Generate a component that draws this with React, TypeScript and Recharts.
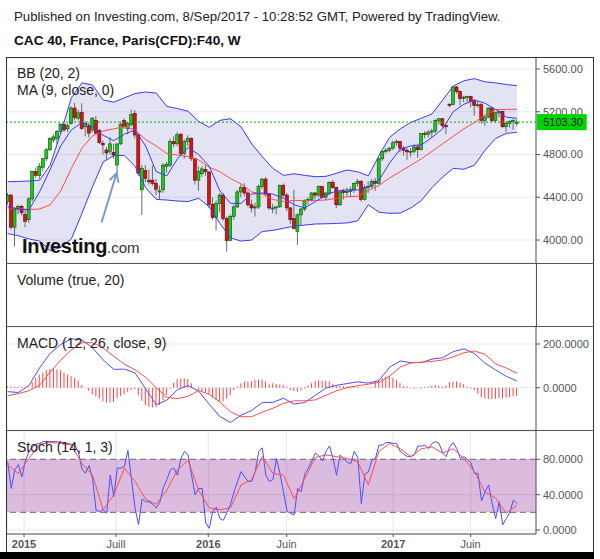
import React from 'react';
import {
  ComposedChart, Line, Bar, Area, XAxis, YAxis, CartesianGrid, ReferenceLine, ReferenceArea,
} from 'recharts';

const FONT = 'Arial, "Liberation Sans", Helvetica, sans-serif';

// ---------- x axis (weekly bars, index 0 = first week shown) ----------
const xTickPos = [4.61, 30.62, 56.72, 78.88, 109.0, 130.9];
const xTickLabels = ['2015', 'Juill', '2016', 'Juin', '2017', 'Juin'];
const xTickBold = [true, false, true, false, true, false];
const X_DOMAIN: [number, number] = [-0.2, 149.4];

// ---------- weekly candles ----------
const opens = [4360,4420,4120,4290,4315,4240,4190,4385,4640,4605,4680,4760,4845,4935,4950,5015,5080,5040,5090,5235,5140,5195,5060,5065,5030,5120,5025,4905,4842,4830,4820,4702,4900,5120,5040,5080,5185,4983,4470,4650,4560,4560,4530,4450,4470,4690,4700,4920,4900,4990,4810,4920,4950,4760,4560,4620,4660,4637,4333,4210,4340,4420,4200,3995,4220,4310,4450,4490,4440,4330,4300,4310,4500,4570,4430,4300,4300,4310,4510,4420,4300,4200,4080,4235,4290,4370,4380,4440,4420,4500,4400,4440,4540,4490,4330,4455,4445,4455,4470,4530,4550,4380,4490,4500,4550,4530,4760,4830,4840,4860,4910,4920,4860,4840,4825,4830,4870,4845,4995,4990,5010,5020,5120,5135,5070,5270,5267,5432,5390,5324,5337,5343,5300,5260,5266,5120,5150,5235,5117,5190,5203,5060,5090,5110,5090];
const highs = [4440,4430,4310,4330,4330,4280,4400,4650,4680,4720,4770,4860,4960,4990,5030,5090,5095,5090,5250,5285,5220,5280,5110,5100,5150,5160,5040,4930,4870,4960,4900,4910,5110,5140,5100,5220,5215,4990,4700,4700,4660,4700,4570,4510,4720,4730,4950,4970,5010,5000,4940,4980,4960,4770,4690,4690,4700,4640,4400,4370,4440,4440,4220,4240,4330,4470,4520,4530,4460,4380,4350,4520,4580,4590,4440,4340,4320,4520,4530,4440,4310,4470,4250,4300,4380,4400,4450,4450,4510,4510,4450,4550,4560,4500,4460,4480,4490,4500,4540,4570,4560,4520,4550,4570,4580,4770,4840,4860,4870,4930,4940,4930,4880,4860,4860,4900,4900,5000,5020,5030,5040,5130,5140,5140,5090,5280,5440,5440,5400,5350,5350,5350,5320,5300,5280,5170,5240,5240,5200,5220,5210,5110,5120,5130,5130];
const lows = [4330,4100,3940,4240,4230,4120,4160,4360,4580,4570,4640,4740,4830,4910,4900,4990,5010,5010,5080,5120,5120,5030,4970,4960,5010,4990,4900,4800,4750,4800,4760,4625,4890,5040,4990,5060,4950,4600,4234,4540,4520,4510,4420,4380,4440,4630,4680,4870,4880,4790,4760,4880,4740,4520,4460,4590,4600,4300,4190,4090,4260,4180,3890,3990,4190,4300,4400,4410,4310,4260,4220,4290,4480,4410,4280,4250,4240,4300,4400,4270,4150,4100,3955,4140,4270,4330,4360,4380,4400,4390,4370,4420,4480,4300,4320,4380,4410,4400,4440,4500,4360,4370,4440,4480,4460,4520,4740,4810,4820,4840,4880,4820,4790,4750,4780,4810,4770,4840,4950,4960,4960,5000,5080,5050,4990,5240,5260,5370,5260,5290,5290,5240,5160,5240,5090,5070,5140,5100,5100,5150,5050,5010,5050,5030,5070];
const closes = [4420,4120,4290,4315,4255,4175,4385,4640,4605,4690,4760,4845,4950,4965,5015,5085,5030,5070,5235,5145,5190,5045,5090,5000,5140,5000,4910,4890,4815,4900,4795,4898,5080,5060,5090,5175,4983,4625,4670,4577,4545,4530,4475,4460,4700,4710,4920,4900,4985,4810,4920,4950,4760,4560,4640,4665,4640,4333,4210,4340,4420,4200,3995,4220,4310,4450,4490,4440,4330,4300,4310,4500,4570,4430,4300,4300,4310,4510,4420,4300,4190,4106,4235,4290,4370,4380,4440,4420,4500,4400,4440,4540,4490,4330,4450,4445,4455,4470,4530,4550,4380,4490,4500,4550,4530,4760,4830,4840,4860,4910,4920,4860,4840,4825,4830,4870,4845,4995,4990,5010,5020,5120,5135,5070,5059,5267,5432,5390,5324,5337,5343,5300,5260,5266,5120,5150,5235,5117,5190,5203,5060,5090,5110,5120,5103];
const lastPrice = 5103.3;

// ---------- indicator lines read every 3rd week ----------
const sampleIdx = [0,3,6,9,12,15,18,21,24,27,30,33,36,39,42,45,48,51,54,57,60,63,66,69,72,75,78,81,84,87,90,93,96,99,102,105,108,111,114,117,120,123,126,129,132,135,138,141,144];
const bbUpper = [4546,4548,4552,4560,4700,5000,5330,5470,5450,5310,5290,5330,5370,5385,5375,5250,5230,5205,5110,5055,5120,5135,5058,4900,4780,4670,4605,4620,4605,4592,4596,4625,4655,4638,4600,4790,4960,5040,5100,5140,5180,5310,5440,5490,5510,5480,5470,5455,5444];
const bbLower = [4060,4040,4010,3990,3900,3930,4010,4250,4500,4730,4790,4790,4690,4490,4380,4374,4365,4360,4390,4310,4156,4020,3990,4000,4080,4090,4110,4130,4140,4150,4152,4155,4160,4180,4330,4260,4250,4252,4300,4370,4490,4590,4670,4662,4700,4840,4950,4998,5007];
const bbBasis = [4300,4294,4285,4290,4330,4460,4670,4860,4975,5020,5040,5060,5030,4940,4880,4810,4795,4780,4750,4680,4640,4575,4525,4450,4430,4380,4360,4370,4370,4370,4375,4390,4405,4410,4465,4510,4580,4640,4700,4760,4830,4900,4970,5040,5100,5170,5220,5222,5223];
const ma9 = [4312,4290,4281,4450,4660,4880,5030,5100,5060,4980,4930,4990,5030,4880,4640,4600,4760,4865,4800,4690,4460,4343,4343,4430,4440,4430,4390,4330,4300,4360,4420,4460,4468,4468,4500,4560,4720,4850,4880,4890,4960,5040,5200,5270,5310,5280,5220,5150,5138];

const macdLine = [-18,-22,10,90,157,198,224,218,182,127,84,85,68,-5,-78,-57,-9,10,-16,-76,-132,-159,-126,-104,-68,-67,-48,-75,-68,-35,-2,11,19,27,21,33,94,122,115,115,131,137,165,178,156,112,81,52,31];
const macdSignal = [-37,-27,-14,11,72,126,173,206,206,181,144,108,82,48,0,-44,-50,-39,-13,-30,-66,-110,-133,-133,-112,-94,-71,-60,-60,-56,-35,-14,0,9,16,25,53,94,113,117,120,127,141,160,168,153,109,90,66];
const macdHist = [5,5,5,4,3,0,-2,25,45,60,70,81,86,87,84,80,70,60,52,45,33,12,0,-15,-30,-40,-50,-62,-68,-68,-64,-50,-38,-30,-18,-10,-6,-35,-60,-80,-88,-91,-90,-80,-56,-33,-5,23,40,43,43,40,20,0,-10,-15,-22,-30,-45,-56,-64,-62,-50,-35,-12,5,20,28,28,30,35,36,38,30,15,20,17,15,12,5,-10,-15,-18,-12,-5,10,20,30,34,32,32,30,18,10,8,8,6,5,6,4,0,0,2,1,28,35,43,50,53,45,36,22,8,5,-3,-6,2,-5,3,4,8,12,10,4,10,25,28,28,22,16,6,-5,-12,-26,-44,-50,-53,-53,-52,-50,-48,-46,-44,-40,-38];

const stochK = [77,47,68,74,60,78,89,94,97,98,100,100,100,100,100,99,99,98,97,96,88,69,64,73,58,22,21,23,19,62,38,70,70,72,90,58,25,6,35,32,32,29,25,31,48,57,68,70,62,81,89,85,62,40,47,47,8,2,21,26,13,11,20,29,43,55,66,60,55,55,66,89,93,62,55,57,81,64,43,21,19,17,47,43,63,70,78,87,84,78,89,95,81,62,85,81,77,75,89,82,30,63,66,79,81,96,96,99,99,98,98,89,86,83,83,85,95,95,96,92,98,100,98,87,83,94,99,92,81,83,80,76,64,64,33,43,51,30,13,32,6,13,20,34,30];
const stochD = [73.6,64,81,97,99,98,96,75,62,23,40,70,55,35,29,45,68,79,45,25,23,25,51,57,83,64,62,35,58,82,85,83,81,77,51,89,98,92,83,92,94,87,92,81,66,43,36,19,28];

// ---------- scales / ticks ----------
const PRICE_DOMAIN: [number, number] = [3785, 5703];
const priceTicks = [4000, 4400, 4800, 5200, 5600];
const MACD_DOMAIN: [number, number] = [-193.6, 277.8];
const macdTicks = [0, 200];
const STOCH_DOMAIN: [number, number] = [-4.5, 112];
const stochTicks = [0, 40, 80];

// ---------- tables built from the arrays ----------
const candleRows = closes.map((c, i) => ({ i, o: opens[i], h: highs[i], l: lows[i], c, range: [lows[i], highs[i]] }));
const bbRows = sampleIdx.map((i, k) => ({ i, upper: bbUpper[k], lower: bbLower[k], basis: bbBasis[k], ma: ma9[k], band: [bbLower[k], bbUpper[k]] }));
const macdRows = sampleIdx.map((i, k) => ({ i, macd: macdLine[k], signal: macdSignal[k] }));
const histRows = macdHist.map((h, i) => ({ i, hist: h }));
const kRows = stochK.map((k, i) => ({ i, k }));
const dRows = sampleIdx.map((i, j) => ({ i, d: stochD[j] }));

const CHART_W = 586;
const AXIS_W = 57;
const M = { top: 0, right: 0, bottom: 0, left: 0 };

const Candle = (props: any) => {
  const { x, y, width, height, payload } = props;
  if (x == null || y == null || height == null || !payload) return null;
  const top = Math.min(y, y + height);
  const bot = Math.max(y, y + height);
  const { o, h, l, c } = payload;
  const k = h === l ? 0 : (bot - top) / (h - l);
  const bTop = top + (h - Math.max(o, c)) * k;
  const bBot = top + (h - Math.min(o, c)) * k;
  const cx = x + width / 2;
  const up = c >= o;
  return (
    <g>
      <line x1={cx} x2={cx} y1={top} y2={bot} stroke="#6a6a6a" strokeWidth={1} />
      <rect x={cx - 1.5} y={bTop} width={3} height={Math.max(1, bBot - bTop)}
        fill={up ? '#1ec81e' : '#e01010'} stroke={up ? '#0b4d0b' : '#5a0808'} strokeWidth={0.6} />
    </g>
  );
};

const PriceTag = (props: any) => {
  const vb = props.viewBox || {};
  const x0 = (vb.x || 0) + (vb.width || 0) + 0.7;
  const y0 = vb.y || 0;
  return (
    <g>
      <rect x={x0} y={y0 - 8} width={50} height={16} fill="#00d400" />
      <text x={x0 + 6.5} y={y0 + 4} fontSize={11} fontFamily={FONT} fill="#1a1a1a">{lastPrice.toFixed(2)}</text>
    </g>
  );
};

const Arrow = (props: any) => {
  const { x1, y1, x2, y2 } = props;
  if ([x1, y1, x2, y2].some((v) => v == null || isNaN(v))) return null;
  const ang = Math.atan2(y2 - y1, x2 - x1);
  const hl = 9;
  const a1 = ang + Math.PI - 0.5;
  const a2 = ang + Math.PI + 0.5;
  const p1 = `${x2 + hl * Math.cos(a1)},${y2 + hl * Math.sin(a1)}`;
  const p2 = `${x2 + hl * Math.cos(a2)},${y2 + hl * Math.sin(a2)}`;
  return (
    <g stroke="#7e98cc" strokeWidth={2} fill="none" strokeLinecap="round">
      <line x1={x1} y1={y1} x2={x2} y2={y2} />
      <polyline points={`${p1} ${x2},${y2} ${p2}`} />
    </g>
  );
};

const XTick = (props: any) => {
  const { x, y, payload } = props;
  let idx = 0;
  let best = Infinity;
  xTickPos.forEach((p, k) => { const d = Math.abs(p - payload.value); if (d < best) { best = d; idx = k; } });
  return (
    <text x={x} y={y} dy="0.71em" textAnchor="middle" fontSize={11} fontFamily={FONT}
      fontWeight={xTickBold[idx] ? 'bold' : 'normal'} fill="#555">{xTickLabels[idx]}</text>
  );
};

const hiddenX = (h = 0) => (
  <XAxis type="number" dataKey="i" domain={X_DOMAIN} ticks={xTickPos} allowDataOverflow
    height={h} tick={false} tickLine={false} axisLine={false} />
);
const hiddenY = (domain: [number, number]) => (
  <YAxis orientation="right" width={AXIS_W} type="number" domain={domain} allowDataOverflow
    tick={false} tickLine={false} axisLine={false} />
);
const shownY = (domain: [number, number], ticks: number[], digits: number) => (
  <YAxis orientation="right" width={AXIS_W} type="number" domain={domain} ticks={ticks} interval={0}
    allowDataOverflow tickFormatter={(v: number) => v.toFixed(digits)}
    tick={{ fill: '#555', fontSize: 11, fontFamily: FONT }} tickSize={4} tickMargin={3}
    axisLine={{ stroke: '#555' }} tickLine={{ stroke: '#555' }} />
);

const Pane = ({ top, height, children }: any) => (
  <div style={{ position: 'absolute', left: 7, top, width: CHART_W, height }}>{children}</div>
);

const Txt = ({ x, y, size, bold, color, children }: any) => (
  <div style={{ position: 'absolute', left: x, top: y, fontSize: size, lineHeight: `${size}px`, fontWeight: bold ? 'bold' : 'normal', color: color || '#222', fontFamily: FONT, whiteSpace: 'nowrap' }}>{children}</div>
);

const HLine = ({ x, y, w, c }: any) => <div style={{ position: 'absolute', left: x, top: y, width: w, height: 1, background: c || '#444' }} />;
const VLine = ({ x, y, h, c }: any) => <div style={{ position: 'absolute', left: x, top: y, width: 1, height: h, background: c || '#444' }} />;

export default function App() {
  const MAIN_TOP = 58, MAIN_H = 205;
  const VOL_TOP = 264, VOL_H = 62;
  const MACD_TOP = 327, MACD_H = 103;
  const ST_TOP = 431, ST_H = 123;
  return (
    <div style={{ position: 'absolute', left: 0, top: 0, width: 600, height: 559, background: '#fff', overflow: 'hidden', fontFamily: FONT }}>
      <Txt x={14} y={10} size={13.2} color="#222">Published on Investing.com, 8/Sep/2017 - 10:28:52 GMT, Powered by TradingView.</Txt>
      <Txt x={14} y={34} size={13.6} bold color="#111">CAC 40, France, Paris(CFD):F40, W</Txt>

      {/* ---- main pane ---- */}
      <Pane top={MAIN_TOP} height={MAIN_H}>
        <ComposedChart width={CHART_W} height={MAIN_H} data={bbRows} margin={M}>
          <CartesianGrid stroke="#ebebeb" />
          {hiddenX()}
          {shownY(PRICE_DOMAIN, priceTicks, 2)}
          <Area dataKey="band" type="linear" stroke="none" fill="#2828a0" fillOpacity={0.13} isAnimationActive={false} />
        </ComposedChart>
      </Pane>
      <Pane top={MAIN_TOP} height={MAIN_H}>
        <ComposedChart width={CHART_W} height={MAIN_H} data={candleRows} margin={M}>
          {hiddenX()}
          {hiddenY(PRICE_DOMAIN)}
          <Bar dataKey="range" barSize={3} shape={(p: any) => <Candle {...p} />} isAnimationActive={false} />
        </ComposedChart>
      </Pane>
      <Pane top={MAIN_TOP} height={MAIN_H}>
        <ComposedChart width={CHART_W} height={MAIN_H} data={bbRows} margin={M}>
          {hiddenX()}
          {hiddenY(PRICE_DOMAIN)}
          <Line dataKey="basis" type="linear" stroke="#ff4a4a" strokeWidth={1} dot={false} isAnimationActive={false} />
          <Line dataKey="upper" type="linear" stroke="#3a3aff" strokeWidth={1} dot={false} isAnimationActive={false} />
          <Line dataKey="lower" type="linear" stroke="#3a3aff" strokeWidth={1} dot={false} isAnimationActive={false} />
          <Line dataKey="ma" type="linear" stroke="#3a3aff" strokeWidth={1} dot={false} isAnimationActive={false} />
          <ReferenceLine y={lastPrice} stroke="#00b400" strokeDasharray="2 2" label={(p: any) => <PriceTag {...p} />} />
          <ReferenceLine segment={[{ x: 26.6, y: 4171 }, { x: 30.8, y: 4624 }]} shape={(p: any) => <Arrow {...p} />} />
        </ComposedChart>
      </Pane>

      {/* ---- volume pane (empty) ---- */}
      <Pane top={VOL_TOP} height={VOL_H}>
        <ComposedChart width={CHART_W} height={VOL_H} data={candleRows} margin={M}>
          <CartesianGrid stroke="#ebebeb" horizontal={false} />
          {hiddenX()}
          {hiddenY([0, 1])}
        </ComposedChart>
      </Pane>

      {/* ---- MACD pane ---- */}
      <Pane top={MACD_TOP} height={MACD_H}>
        <ComposedChart width={CHART_W} height={MACD_H} data={histRows} margin={M}>
          <CartesianGrid stroke="#ebebeb" />
          {hiddenX()}
          {shownY(MACD_DOMAIN, macdTicks, 4)}
          <Bar dataKey="hist" barSize={1} fill="#ff4646" isAnimationActive={false} />
        </ComposedChart>
      </Pane>
      <Pane top={MACD_TOP} height={MACD_H}>
        <ComposedChart width={CHART_W} height={MACD_H} data={macdRows} margin={M}>
          {hiddenX()}
          {hiddenY(MACD_DOMAIN)}
          <Line dataKey="macd" type="linear" stroke="#4d4dff" strokeWidth={1} dot={false} isAnimationActive={false} />
          <Line dataKey="signal" type="linear" stroke="#ff4d4d" strokeWidth={1} dot={false} isAnimationActive={false} />
        </ComposedChart>
      </Pane>

      {/* ---- Stoch pane ---- */}
      <Pane top={ST_TOP} height={ST_H}>
        <ComposedChart width={CHART_W} height={ST_H} data={kRows} margin={M}>
          <CartesianGrid stroke="#e6e6e6" />
          <XAxis type="number" dataKey="i" domain={X_DOMAIN} ticks={xTickPos} allowDataOverflow interval={0}
            height={20} tickSize={3} tickMargin={3} axisLine={{ stroke: '#555' }} tickLine={{ stroke: '#555' }}
            tick={(p: any) => <XTick {...p} />} />
          {shownY(STOCH_DOMAIN, stochTicks, 4)}
          <ReferenceArea y1={20} y2={80} fill="#8c2896" fillOpacity={0.31} stroke="none" />
          <ReferenceLine y={80} stroke="#6a6a6a" strokeDasharray="6 4" />
          <ReferenceLine y={20} stroke="#6a6a6a" strokeDasharray="6 4" />
        </ComposedChart>
      </Pane>
      <Pane top={ST_TOP} height={ST_H}>
        <ComposedChart width={CHART_W} height={ST_H} data={kRows} margin={M}>
          {hiddenX(20)}
          {hiddenY(STOCH_DOMAIN)}
          <Line dataKey="k" type="linear" stroke="#4d4dff" strokeWidth={1} dot={false} isAnimationActive={false} />
        </ComposedChart>
      </Pane>
      <Pane top={ST_TOP} height={ST_H}>
        <ComposedChart width={CHART_W} height={ST_H} data={dRows} margin={M}>
          {hiddenX(20)}
          {hiddenY(STOCH_DOMAIN)}
          <Line dataKey="d" type="linear" stroke="#ff4d4d" strokeWidth={1} dot={false} isAnimationActive={false} />
        </ComposedChart>
      </Pane>

      {/* ---- frame ---- */}
      <HLine x={6} y={57} w={588} c="#333" />
      <VLine x={6} y={57} h={496} c="#333" />
      <VLine x={593} y={57} h={496} c="#333" />
      <HLine x={6} y={263} w={588} c="#555" />
      <HLine x={6} y={326} w={588} c="#555" />
      <HLine x={6} y={430} w={588} c="#555" />
      <VLine x={536} y={263} h={64} c="#555" />
      <div style={{ position: 'absolute', left: 0, top: 552, width: 594, height: 7, background: '#000' }} />

      {/* ---- pane titles ---- */}
      <Txt x={17} y={66} size={14}>BB (20, 2)</Txt>
      <Txt x={17} y={83} size={14}>MA (9, close, 0)</Txt>
      <Txt x={17} y={273} size={14}>Volume (true, 20)</Txt>
      <Txt x={17} y={336} size={14}>MACD (12, 26, close, 9)</Txt>
      <Txt x={17} y={440} size={14}>Stoch (14, 1, 3)</Txt>

      {/* ---- watermark ---- */}
      <div style={{ position: 'absolute', left: 22, top: 236, fontFamily: FONT, whiteSpace: 'nowrap', lineHeight: '20px' }}>
        <span style={{ fontSize: 20, fontWeight: 'bold', color: '#111', letterSpacing: -0.3 }}>Investing</span>
        <span style={{ fontSize: 15, color: '#333' }}>.com</span>
      </div>
    </div>
  );
}
